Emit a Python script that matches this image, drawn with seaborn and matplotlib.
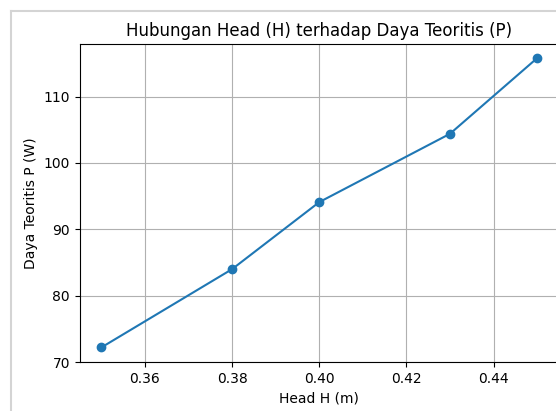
import matplotlib
matplotlib.use("Agg")
import matplotlib.pyplot as plt
from matplotlib.lines import Line2D
import seaborn as sns
import pandas as pd

head_m = [0.35, 0.38, 0.40, 0.43, 0.45]
daya_w = [72.2, 84.0, 94.1, 104.4, 115.8]

df = pd.DataFrame({"H": head_m, "P": daya_w})

fig = plt.figure(figsize=(5.56, 4.11), dpi=100)
ax = fig.add_axes([0.1432, 0.1192, 0.862, 0.774])

sns.lineplot(data=df, x="H", y="P", ax=ax, marker="o", color="#1f77b4",
             markersize=6, markeredgecolor="#1f77b4", markeredgewidth=1,
             linewidth=1.5)

ax.set_xticks([0.36, 0.38, 0.40, 0.42, 0.44])
ax.set_xticklabels(["0.36", "0.38", "0.40", "0.42", "0.44"])
ax.set_yticks([70, 80, 90, 100, 110])
ax.set_xlim(0.345, 0.455)
ax.set_ylim(70.0, 117.95)
ax.grid(True, color="#b0b0b0", linewidth=0.8)
ax.set_axisbelow(True)
ax.spines["right"].set_visible(False)
ax.set_title("Hubungan Head (H) terhadap Daya Teoritis (P)", fontsize=12)
ax.set_xlabel("Head H (m)", fontsize=10)
ax.set_ylabel("Daya Teoritis P (W)", fontsize=10)

# light frame from the surrounding notebook output
fig.add_artist(Line2D([11 / 556, 11 / 556], [0, 1 - 11 / 411], transform=fig.transFigure,
                      color="#d4d4d4", linewidth=1.5))
fig.add_artist(Line2D([11 / 556, 1], [1 - 11 / 411, 1 - 11 / 411], transform=fig.transFigure,
                      color="#d4d4d4", linewidth=1.5))

fig.savefig("out.png", dpi=100)
